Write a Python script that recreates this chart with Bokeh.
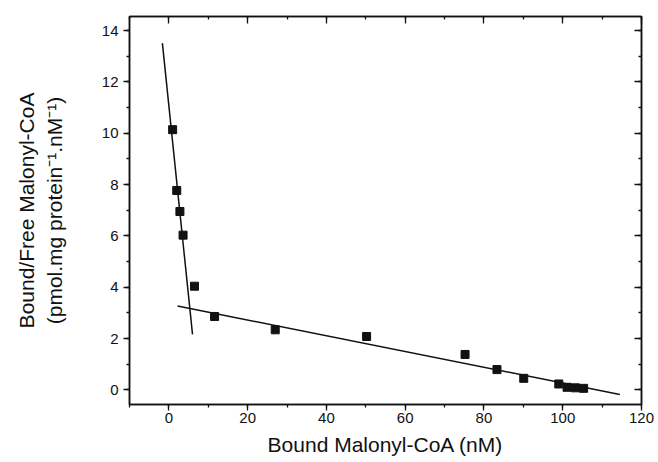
from bokeh.plotting import figure
from bokeh.models import LinearAxis, SingleIntervalTicker, Range1d, CustomJSTickFormatter
from bokeh.embed import file_html
from bokeh.resources import INLINE

# Scatchard data
bound_nM = [0.95, 2.0, 2.8, 3.6, 6.5, 11.6, 27.0, 50.2, 75.2, 83.3, 90.1, 99.0, 101.1, 103.2, 105.3]
bound_free = [10.14, 7.77, 6.95, 6.03, 4.04, 2.86, 2.34, 2.08, 1.38, 0.79, 0.45, 0.23, 0.10, 0.08, 0.06]

# fitted lines (end points)
high_fit_x = [-1.65, 6.0]
high_fit_y = [13.51, 2.16]
low_fit_x = [2.2, 114.5]
low_fit_y = [3.27, -0.18]

x_limits = (-10, 120)
y_limits = (-0.57, 14.55)
x_major_step = 20
y_major_step = 2

FONT = "Liberation Sans"
INK = "#111111"

p = figure(width=658, height=462, output_backend="svg", toolbar_location=None,
           x_range=Range1d(*x_limits), y_range=Range1d(*y_limits),
           min_border_left=129, min_border_right=17, min_border_top=16, min_border_bottom=58,
           background_fill_color="white", border_fill_color="white")
p.xgrid.visible = False
p.ygrid.visible = False
p.outline_line_color = INK
p.outline_line_width = 1.5


def style_axis(ax, ticker, outward, labels, standoff=3):
    ax.ticker = ticker
    ax.axis_line_color = INK
    ax.axis_line_width = 1.5
    ax.major_tick_line_color = INK
    ax.minor_tick_line_color = INK
    ax.major_tick_line_width = 1.3
    ax.minor_tick_line_width = 1.3
    if outward:
        ax.major_tick_out = 6
        ax.major_tick_in = 0
        ax.minor_tick_out = 3
        ax.minor_tick_in = 0
    else:
        ax.major_tick_out = 0
        ax.major_tick_in = 7
        ax.minor_tick_out = 0
        ax.minor_tick_in = 3
    if labels:
        ax.major_label_text_font = FONT
        ax.major_label_text_font_size = "15px"
        ax.major_label_text_color = INK
        ax.major_label_standoff = standoff
    else:
        ax.formatter = CustomJSTickFormatter(code="return ''")
        ax.major_label_standoff = 0
        ax.major_label_text_font_size = "1px"


xt = lambda: SingleIntervalTicker(interval=x_major_step, num_minor_ticks=2)
yt = lambda: SingleIntervalTicker(interval=y_major_step, num_minor_ticks=2)

style_axis(p.xaxis[0], xt(), True, True, standoff=2)
style_axis(p.yaxis[0], yt(), True, True, standoff=5)

p.xaxis[0].axis_label = "Bound Malonyl-CoA (nM)"
p.xaxis[0].axis_label_text_font = FONT
p.xaxis[0].axis_label_text_font_size = "21px"
p.xaxis[0].axis_label_text_font_style = "normal"
p.xaxis[0].axis_label_text_color = INK
p.xaxis[0].axis_label_standoff = 7

p.yaxis[0].axis_label = "Bound/Free Malonyl-CoA\n(pmol.mg protein\u207b\u00b9.nM\u207b\u00b9)"
p.yaxis[0].axis_label_text_font = FONT
p.yaxis[0].axis_label_text_font_size = "21px"
p.yaxis[0].axis_label_text_font_style = "normal"
p.yaxis[0].axis_label_text_color = INK
p.yaxis[0].axis_label_standoff = 33

top = LinearAxis()
style_axis(top, xt(), False, False)
p.add_layout(top, "above")
right = LinearAxis()
style_axis(right, yt(), False, False)
p.add_layout(right, "right")

p.line(high_fit_x, high_fit_y, line_color=INK, line_width=1.5)
p.line(low_fit_x, low_fit_y, line_color=INK, line_width=1.5)
p.scatter(bound_nM, bound_free, marker="square", size=8, fill_color=INK, line_color=INK)

open("out.html", "w").write(file_html(p, INLINE))
